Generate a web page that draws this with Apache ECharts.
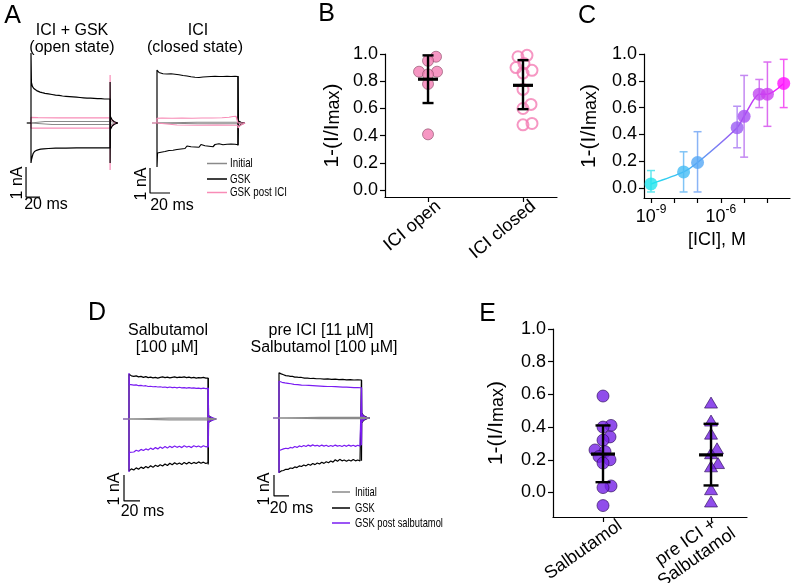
<!DOCTYPE html>
<html><head><meta charset="utf-8">
<script src="https://cdn.jsdelivr.net/npm/echarts@6/dist/echarts.min.js"></script>
<style>html,body{margin:0;padding:0;background:#fff}#c{width:791px;height:583px}</style>
</head><body><div id="c"></div>
<script>
// ================= DATA =================
// Panel A, left: ICI + GSK (open state). [time ms, current nA]
const aOpenInitialUp = [[-6,0],[0,0],[0,0.06],[20,0.05],[60,0.05],[113,0.05],[113,0],[124,0]];
const aOpenInitialDn = [[0,0],[0,-0.05],[30,-0.05],[113,-0.05],[113,0],[124,0]];
const aOpenGskUp = [[-6,0],[0,0],[0,2.33],[0.6,1.35],[2,1.22],[4,1.15],[6,1.11],[8,1.08],[10,1.06],[13,1.03],[16,1.01],[20,0.99],[25,0.97],[30,0.95],[35,0.93],[40,0.92],[45,0.90],[50,0.89],[55,0.88],[60,0.87],[65,0.86],[70,0.85],[75,0.84],[80,0.83],[85,0.83],[90,0.82],[95,0.81],[100,0.81],[105,0.80],[110,0.80],[113,0.80],[113,-1.33],[113.4,0.22],[116,0.1],[119,0.04],[124,0]];
const aOpenGskDn = [[0,0],[0,-1.33],[0.6,-1.23],[2,-1.1],[3,-1.02],[5,-0.95],[8,-0.91],[11,-0.89],[14,-0.87],[18,-0.86],[25,-0.85],[35,-0.84],[50,-0.84],[65,-0.83],[80,-0.83],[95,-0.83],[113,-0.83],[113,1.37],[113.4,-0.22],[116,-0.1],[119,-0.04],[124,0]];
const aOpenPostUp = [[0,0],[0,0.19],[10,0.18],[40,0.17],[80,0.17],[113,0.17],[113,-1.57],[113.4,0.18],[116,0.08],[120,0.02],[124,0]];
const aOpenPostDn = [[0,0],[0,-0.17],[40,-0.17],[80,-0.17],[113,-0.17],[113,1.6],[113.4,-0.18],[116,-0.08],[120,-0.02],[124,0]];

// Panel A, right: ICI (closed state)
const aClosedInitialUp = [[-5,0],[0,0],[0,0.03],[40,0.03],[81,0.03],[81,0],[88,0]];
const aClosedInitialDn = [[0,0],[0,-0.03],[40,-0.03],[81,-0.03],[81,0],[88,0]];
const aClosedGskUp = [[0,0],[0,2.12],[0.5,2.05],[2,2.02],[4,2.0],[6,1.97],[8,2.0],[10,1.96],[12,1.95],[14,1.97],[16,1.93],[18,1.95],[20,1.91],[22,1.93],[24,1.89],[26,1.9],[28,1.86],[30,1.88],[32,1.83],[34,1.85],[36,1.8],[38,1.83],[40,1.79],[42,1.82],[44,1.8],[46,1.84],[48,1.81],[50,1.85],[52,1.83],[54,1.86],[56,1.84],[58,1.87],[60,1.85],[62,1.86],[64,1.83],[66,1.86],[68,1.84],[70,1.87],[72,1.85],[74,1.86],[76,1.84],[78,1.87],[80,1.86],[81,1.86],[81,-0.9],[81.5,0.08],[84,0.03],[88,0]];
const aClosedGskDn = [[0,0],[0,-1.76],[0.5,-1.2],[2,-1.15],[4,-1.17],[6,-1.1],[8,-1.14],[10,-1.06],[12,-1.1],[14,-1.03],[16,-1.09],[18,-1.02],[20,-1.06],[22,-0.98],[24,-1.04],[26,-0.97],[28,-1.02],[30,-0.92],[32,-0.99],[34,-0.95],[36,-0.88],[38,-0.96],[40,-0.9],[42,-0.97],[44,-0.86],[46,-0.94],[48,-0.91],[50,-0.84],[52,-0.93],[54,-0.88],[56,-0.95],[58,-0.86],[60,-0.92],[62,-0.83],[64,-0.9],[66,-0.87],[68,-0.93],[70,-0.85],[72,-0.91],[74,-0.84],[76,-0.89],[78,-0.85],[80,-0.88],[81,-0.87],[81,1.88],[81.5,-0.15],[84,-0.06],[88,0]];
const aClosedPostUp = [[-5,0],[0,0],[0,0.19],[5,0.2],[15,0.19],[25,0.2],[35,0.19],[45,0.2],[55,0.2],[65,0.21],[72,0.23],[76,0.26],[79,0.27],[81,0.26],[81,0],[88,0]];
const aClosedPostDn = [[0,0],[0,-0.08],[20,-0.08],[40,-0.09],[60,-0.08],[81,-0.09],[81,-0.2],[83,-0.1],[88,0]];

// Panel D, left: Salbutamol [100 uM]
const dSalInitialUp = [[-7.5,0],[0,0],[0,0.03],[50,0.03],[99,0.03],[99,0],[109,0]];
const dSalInitialDn = [[0,0],[0,-0.03],[50,-0.03],[99,-0.03],[99,0],[109,0]];
const dSalGskUp = [[0,0],[0,1.72],[0.5,1.68],[3,1.66],[6,1.64],[9,1.66],[12,1.62],[15,1.64],[18,1.6],[21,1.63],[24,1.59],[27,1.61],[30,1.58],[33,1.6],[36,1.57],[39,1.6],[42,1.62],[45,1.59],[48,1.61],[51,1.58],[54,1.6],[57,1.62],[60,1.59],[63,1.61],[66,1.6],[69,1.62],[72,1.59],[75,1.61],[78,1.58],[81,1.6],[84,1.57],[87,1.59],[90,1.58],[93,1.6],[96,1.57],[99,1.57],[99,-1.75],[99.5,0.12],[102,0.06],[105,0.02],[109,0]];
const dSalGskDn = [[0,0],[0,-2.0],[0.5,-1.97],[3,-1.92],[6,-1.96],[9,-1.88],[12,-1.93],[15,-1.85],[18,-1.9],[21,-1.83],[24,-1.88],[27,-1.8],[30,-1.86],[33,-1.78],[36,-1.83],[39,-1.76],[42,-1.81],[45,-1.73],[48,-1.79],[51,-1.7],[54,-1.76],[57,-1.68],[60,-1.74],[63,-1.69],[66,-1.75],[69,-1.67],[72,-1.73],[75,-1.66],[78,-1.72],[81,-1.67],[84,-1.71],[87,-1.65],[90,-1.7],[93,-1.66],[96,-1.71],[99,-1.68],[99,1.58],[99.5,-0.12],[102,-0.06],[105,-0.02],[109,0]];
const dSalPostUp = [[-7.5,0],[0,0],[0,1.77],[0.5,1.33],[3,1.32],[6,1.3],[9,1.31],[12,1.28],[15,1.29],[18,1.27],[21,1.28],[24,1.25],[27,1.26],[30,1.24],[33,1.25],[36,1.23],[39,1.24],[42,1.22],[45,1.23],[48,1.21],[51,1.23],[54,1.21],[57,1.22],[60,1.2],[63,1.22],[66,1.2],[69,1.21],[72,1.19],[75,1.21],[78,1.19],[81,1.2],[84,1.18],[87,1.19],[90,1.17],[93,1.19],[96,1.17],[99,1.18],[99,-1.1],[99.5,0.1],[102,0.05],[109,0]];
const dSalPostDn = [[0,0],[0,-2.04],[0.5,-1.28],[3,-1.24],[6,-1.27],[9,-1.2],[12,-1.24],[15,-1.17],[18,-1.21],[21,-1.15],[24,-1.19],[27,-1.12],[30,-1.17],[33,-1.1],[36,-1.15],[39,-1.08],[42,-1.13],[45,-1.06],[48,-1.12],[51,-1.05],[54,-1.1],[57,-1.04],[60,-1.09],[63,-1.05],[66,-1.1],[69,-1.03],[72,-1.08],[75,-1.05],[78,-1.1],[81,-1.03],[84,-1.07],[87,-1.04],[90,-1.09],[93,-1.03],[96,-1.07],[99,-1.05],[99,1.2],[99.5,-0.1],[102,-0.05],[109,0]];

// Panel D, right: pre ICI [11 uM] + Salbutamol [100 uM]
const dPreInitialUp = [[-8,0],[0,0],[0,0.03],[55,0.03],[110,0.03],[110,0],[121,0]];
const dPreInitialDn = [[0,0],[0,-0.03],[55,-0.03],[110,-0.03],[110,0],[121,0]];
const dPreGskUp = [[0,0],[0,2.15],[0.5,2.13],[3,2.1],[6,2.06],[9,2.02],[12,2.01],[15,1.98],[18,1.98],[21,1.95],[24,1.95],[27,1.93],[30,1.93],[34,1.9],[38,1.9],[42,1.88],[46,1.89],[50,1.87],[55,1.87],[60,1.85],[65,1.86],[70,1.84],[75,1.85],[80,1.83],[85,1.84],[90,1.82],[95,1.83],[100,1.81],[105,1.82],[110,1.81],[110,-2.03],[110.4,0.22],[113,0.1],[117,0.03],[121,0]];
const dPreGskDn = [[0,0],[0,-2.6],[0.5,-2.58],[3,-2.52],[6,-2.5],[9,-2.44],[12,-2.45],[15,-2.38],[18,-2.4],[21,-2.33],[24,-2.36],[27,-2.28],[30,-2.31],[33,-2.24],[36,-2.28],[39,-2.2],[42,-2.25],[45,-2.17],[48,-2.22],[51,-2.14],[54,-2.19],[57,-2.11],[60,-2.16],[63,-2.08],[66,-2.13],[69,-2.05],[72,-2.1],[75,-1.99],[78,-2.06],[81,-1.97],[84,-2.04],[87,-2.0],[90,-2.06],[93,-2.0],[96,-2.05],[99,-1.98],[102,-2.04],[105,-2.0],[108,-2.05],[110,-2.03],[110,1.81],[110.4,-0.22],[113,-0.1],[117,-0.03],[121,0]];
const dPrePostUp = [[-8,0],[0,0],[0,1.75],[0.5,1.73],[4,1.7],[8,1.67],[12,1.65],[16,1.63],[20,1.6],[25,1.59],[30,1.57],[35,1.56],[40,1.55],[45,1.54],[50,1.53],[55,1.52],[60,1.51],[65,1.5],[70,1.5],[75,1.49],[80,1.48],[85,1.47],[90,1.47],[95,1.46],[100,1.45],[105,1.45],[110,1.44],[110,-1.3],[110.4,0.18],[113,0.08],[117,0.02],[121,0]];
const dPrePostDn = [[0,0],[0,-2.62],[0.5,-1.55],[3,-1.5],[6,-1.47],[9,-1.44],[12,-1.46],[15,-1.4],[18,-1.43],[21,-1.36],[24,-1.4],[27,-1.33],[30,-1.37],[33,-1.31],[36,-1.36],[39,-1.29],[42,-1.34],[45,-1.28],[48,-1.33],[51,-1.3],[54,-1.35],[57,-1.29],[60,-1.34],[63,-1.3],[66,-1.36],[69,-1.31],[72,-1.35],[75,-1.29],[78,-1.34],[81,-1.31],[84,-1.36],[87,-1.3],[90,-1.35],[93,-1.29],[96,-1.34],[99,-1.3],[102,-1.35],[105,-1.3],[108,-1.34],[110,-1.32],[110,1.44],[110.4,-0.18],[113,-0.08],[117,-0.02],[121,0]];

// Scale bars: 20 ms, 1 nA
const scaleMs = 20, scaleNA = 1;

// Panel B: 1-(I/Imax)
const bCategories = ['ICI open', 'ICI closed'];
const bOpenValues = [0.98, 0.95, 0.87, 0.87, 0.85, 0.78, 0.41];
const bClosedValues = [0.99, 0.98, 0.93, 0.90, 0.88, 0.86, 0.74, 0.63, 0.60, 0.49, 0.48];
const bMean = [0.815, 0.77];
const bLow = [0.64, 0.595];
const bHigh = [0.99, 0.955];

// Panel C: concentration-response (log10 [ICI], M)
const cLogConc = [-9.0, -7.6, -7.0, -5.3, -5.0, -4.35, -4.0, -3.3];
const cMean = [0.03, 0.12, 0.19, 0.45, 0.535, 0.70, 0.70, 0.78];
const cLow = [-0.03, -0.03, -0.03, 0.30, 0.23, 0.60, 0.46, 0.60];
const cHigh = [0.13, 0.27, 0.42, 0.61, 0.84, 0.81, 0.94, 0.96];
const cTickExp = [-9, -8, -7, -6, -5, -4];
const cLabelExp = [-9, -6];

// Panel E
const eCategories = ['Salbutamol', 'pre ICI +\nSalbutamol'];
const eSalValues = [0.59, 0.41, 0.40, 0.34, 0.32, 0.26, 0.25, 0.22, 0.20, 0.18, 0.04, 0.03, -0.08];
const ePreValues = [0.55, 0.44, 0.36, 0.27, 0.24, 0.18, 0.16, 0.02, -0.055];
const eMean = [0.235, 0.23];
const eLow = [0.063, 0.043];
const eHigh = [0.41, 0.42];

const yTicks = [0, 0.2, 0.4, 0.6, 0.8, 1.0];

// ================= STYLE =================
const FONT = 'Liberation Sans, Arial, sans-serif';
const GRAY = '#8a8a8a', BLACK = '#000000', PINK = '#f88cb7', PURPLE = '#7a1cf2';
const B_PINK = '#f47db4', E_PURPLE = '#7420e6';
const cColors = ['#1fe3ee','#45bdf5','#55a8f5','#9a5cf2','#a64ff2','#c048f0','#cc40f0','#ff10ff'];
const cErrColors = ['#63e6ef','#80c4f6','#8ab4f6','#b993f5','#c489f2','#d47cf2','#dc6df0','#f35cf3'];
// rotated category labels sit slightly to the right of their tick (in axis units)
const bLabelShift = 0.11, eLabelShift = 0.16;

const chart = echarts.init(document.getElementById('c'), null, {renderer: 'canvas'});

// grids: 0 A-open, 1 A-closed, 2 B, 3 C, 4 D-left, 5 D-right, 6 E
const grids = [
  {left: 17, top: 48, width: 105, height: 150},
  {left: 142, top: 63, width: 110, height: 135},
  {left: 385, top: 54, width: 172, height: 143},
  {left: 644, top: 54, width: 146, height: 144},
  {left: 121, top: 367, width: 96, height: 143},
  {left: 271.5, top: 365.5, width: 101.25, height: 136.5},
  {left: 553, top: 329, width: 194, height: 188}
].map(g => Object.assign({containLabel: false, outerBoundsMode: 'none'}, g));

const traceRanges = {
  0: {x: [-20, 130], y: [-2.5, 2.5]},
  1: {x: [-15, 95], y: [-3.0, 2.4]},
  4: {x: [-10, 110], y: [-3.5, 2.0]},
  5: {x: [-10, 125], y: [-4.0, 2.5]}
};
// scale bar origins (corner), in each trace panel's units
const scaleOrigins = {0: [-7.1, -2.47], 1: [-7, -2.8], 4: [-6.25, -3.15], 5: [-6.67, -3.71]};

const axisLineStyle = {show: true, onZero: false, lineStyle: {color: '#000', width: 1.2}};
const axisTickStyle = {show: true, length: 5, lineStyle: {color: '#000', width: 1.2}};
const labelBase = {color: '#000', fontFamily: FONT, fontSize: 18};

function yName(gap) {
  return {
    name: '{a|1-(I/I}{s|max}{a|)}', nameLocation: 'middle', nameGap: gap, nameRotate: 90,
    nameTextStyle: {fontSize: 21, fontFamily: FONT, rich: {
      a: {fontFamily: FONT, fontSize: 21, lineHeight: 30, color: '#000', verticalAlign: 'bottom'},
      s: {fontFamily: FONT, fontSize: 18, lineHeight: 18, color: '#000', verticalAlign: 'bottom'}
    }}
  };
}
function valueYAxis(grid, min, gap) {
  return Object.assign({
    gridIndex: grid, type: 'value', min: min, max: 1.0,
    axisLine: axisLineStyle, axisTick: Object.assign({customValues: yTicks}, axisTickStyle),
    axisLabel: Object.assign({customValues: yTicks, margin: 7, formatter: v => v.toFixed(1)}, labelBase),
    splitLine: {show: false}
  }, yName(gap));
}

const xAxes = [], yAxes = [];
for (let g = 0; g < 7; g++) {
  if (traceRanges[g]) {
    xAxes.push({gridIndex: g, type: 'value', min: traceRanges[g].x[0], max: traceRanges[g].x[1], show: false});
    yAxes.push({gridIndex: g, type: 'value', min: traceRanges[g].y[0], max: traceRanges[g].y[1], show: false});
  } else if (g === 2) {
    xAxes.push({gridIndex: 2, type: 'value', min: 0.547, max: 2.358, axisLine: axisLineStyle,
      axisTick: Object.assign({customValues: [1, 2]}, axisTickStyle), splitLine: {show: false},
      axisLabel: Object.assign({customValues: [1 + bLabelShift, 2 + bLabelShift], rotate: 40, margin: 7,
        formatter: v => bCategories[Math.round(v - bLabelShift) - 1] || ''}, labelBase)});
    yAxes.push(valueYAxis(2, -0.05, 42));
  } else if (g === 3) {
    xAxes.push({gridIndex: 3, type: 'value', min: -9.3, max: -3.03, axisLine: axisLineStyle,
      axisTick: Object.assign({customValues: cTickExp}, axisTickStyle), splitLine: {show: false},
      name: '[ICI], M', nameLocation: 'middle', nameGap: 33,
      nameTextStyle: {fontFamily: FONT, fontSize: 18, color: '#000'},
      axisLabel: {customValues: cLabelExp, margin: 6, formatter: v => '{b|10}{p|' + Math.round(v) + '}',
        rich: {b: {fontFamily: FONT, fontSize: 18, lineHeight: 22, color: '#000', verticalAlign: 'bottom'},
               p: {fontFamily: FONT, fontSize: 12, lineHeight: 12, color: '#000', verticalAlign: 'top'}}}});
    yAxes.push(valueYAxis(3, -0.075, 44));
  } else if (g === 6) {
    xAxes.push({gridIndex: 6, type: 'value', min: 0.537, max: 2.333, axisLine: axisLineStyle,
      axisTick: Object.assign({customValues: [1, 2]}, axisTickStyle), splitLine: {show: false},
      axisLabel: {customValues: [1 + eLabelShift, 2 + eLabelShift], rotate: 35, margin: 7,
        formatter: v => (eCategories[Math.round(v - eLabelShift) - 1] || '').split('\n').map(s => '{c|' + s + '}').join('\n'),
        rich: {c: {fontFamily: FONT, fontSize: 18, lineHeight: 19, color: '#000', align: 'center'}}}});
    yAxes.push(valueYAxis(6, -0.15, 46));
  }
}

const series = [];
function trace(g, data, color, z) {
  series.push({type: 'line', xAxisIndex: g, yAxisIndex: g, data: data, showSymbol: false, symbol: 'none',
    lineStyle: {color: color, width: 1.2}, z: z, silent: true, animation: false});
}
// traces: initial (gray), post (pink/purple), GSK (black)
trace(0, aOpenInitialUp, GRAY, 2); trace(0, aOpenInitialDn, GRAY, 2);
trace(0, aOpenPostUp, PINK, 3); trace(0, aOpenPostDn, PINK, 3);
trace(0, aOpenGskUp, BLACK, 4); trace(0, aOpenGskDn, BLACK, 4);
trace(1, aClosedInitialUp, GRAY, 2); trace(1, aClosedInitialDn, GRAY, 2);
trace(1, aClosedGskUp, BLACK, 3); trace(1, aClosedGskDn, BLACK, 3);
trace(1, aClosedPostUp, PINK, 4); trace(1, aClosedPostDn, PINK, 4);
trace(4, dSalGskUp, BLACK, 2); trace(4, dSalGskDn, BLACK, 2);
trace(4, dSalPostUp, PURPLE, 3); trace(4, dSalPostDn, PURPLE, 3);
trace(4, dSalInitialUp, GRAY, 4); trace(4, dSalInitialDn, GRAY, 4);
trace(5, dPreGskUp, BLACK, 2); trace(5, dPreGskDn, BLACK, 2);
trace(5, dPrePostUp, PURPLE, 3); trace(5, dPrePostDn, PURPLE, 3);
trace(5, dPreInitialUp, GRAY, 4); trace(5, dPreInitialDn, GRAY, 4);
// scale bars
[0, 1, 4, 5].forEach(g => {
  const o = scaleOrigins[g];
  trace(g, [[o[0], o[1] + scaleNA], [o[0], o[1]], [o[0] + scaleMs, o[1]]], BLACK, 5);
});

// Error-bar renderer (mean +/- SD)
function errRender(capHalf, meanHalf, colorFn, lw, meanLw) {
  return function (params, api) {
    const x = api.value(0), m = api.value(1), lo = api.value(2), hi = api.value(3);
    const pl = api.coord([x, lo]), ph = api.coord([x, hi]), pm = api.coord([x, m]);
    const col = colorFn(params.dataIndex);
    const st = {stroke: col, lineWidth: lw, fill: null};
    const ch = [
      {type: 'line', shape: {x1: pl[0], y1: pl[1], x2: ph[0], y2: ph[1]}, style: st},
      {type: 'line', shape: {x1: pl[0] - capHalf, y1: pl[1], x2: pl[0] + capHalf, y2: pl[1]}, style: st},
      {type: 'line', shape: {x1: ph[0] - capHalf, y1: ph[1], x2: ph[0] + capHalf, y2: ph[1]}, style: st}
    ];
    if (meanHalf > 0) ch.push({type: 'line', shape: {x1: pm[0] - meanHalf, y1: pm[1], x2: pm[0] + meanHalf, y2: pm[1]},
      style: {stroke: col, lineWidth: meanLw, fill: null}});
    return {type: 'group', children: ch};
  };
}

// Panel B
series.push({id: 'bOpen', type: 'scatter', xAxisIndex: 2, yAxisIndex: 2, symbolSize: 11, z: 2,
  data: bOpenValues.map(v => [1, v]), itemStyle: {color: B_PINK, borderColor: '#8a4a66', borderWidth: 0.8}});
series.push({id: 'bClosed', type: 'scatter', xAxisIndex: 2, yAxisIndex: 2, symbolSize: 11, z: 2,
  data: bClosedValues.map(v => [2, v]), itemStyle: {color: 'rgba(255,255,255,0)', borderColor: B_PINK, borderWidth: 2}});
series.push({type: 'custom', xAxisIndex: 2, yAxisIndex: 2, z: 5,
  data: bMean.map((m, i) => [i + 1, m, bLow[i], bHigh[i]]),
  renderItem: errRender(5.5, 10, () => '#000', 2.4, 3.2)});

// Panel C
series.push({type: 'line', xAxisIndex: 3, yAxisIndex: 3, data: cLogConc.map((x, i) => [x, cMean[i]]),
  smooth: 0.25, showSymbol: false, symbol: 'none', z: 2,
  lineStyle: {width: 1.5, color: new echarts.graphic.LinearGradient(0, 0, 1, 0, [
    {offset: 0, color: cColors[0]}, {offset: 0.35, color: cColors[2]}, {offset: 0.65, color: cColors[4]}, {offset: 1, color: cColors[7]}])}});
series.push({type: 'custom', xAxisIndex: 3, yAxisIndex: 3, z: 3,
  data: cLogConc.map((x, i) => [x, cMean[i], cLow[i], cHigh[i]]),
  renderItem: errRender(4, 0, i => cErrColors[i], 1.5, 0)});
series.push({type: 'scatter', xAxisIndex: 3, yAxisIndex: 3, symbolSize: 13, z: 4,
  data: cLogConc.map((x, i) => ({value: [x, cMean[i]], itemStyle: {color: cColors[i]}}))});

// Panel E
series.push({id: 'eSal', type: 'scatter', xAxisIndex: 6, yAxisIndex: 6, symbolSize: 12, z: 2,
  data: eSalValues.map(v => [1, v]), itemStyle: {color: E_PURPLE, borderColor: '#2a0a55', borderWidth: 0.8}});
series.push({id: 'ePre', type: 'scatter', xAxisIndex: 6, yAxisIndex: 6, symbol: 'triangle', symbolSize: [13, 11], z: 2,
  data: ePreValues.map(v => [2, v]), itemStyle: {color: E_PURPLE, borderColor: '#2a0a55', borderWidth: 0.8}});
series.push({type: 'custom', xAxisIndex: 6, yAxisIndex: 6, z: 5,
  data: eMean.map((m, i) => [i + 1, m, eLow[i], eHigh[i]]),
  renderItem: errRender(7.5, 12, () => '#000', 2.4, 3.2)});

// ---------- text (titles, letters, scale labels, legends) ----------
function txt(text, x, y, size, opts) {
  opts = opts || {};
  return {type: 'text', x: x, y: y, rotation: opts.rot || 0, scaleX: opts.sx || 1, silent: true,
    style: {text: text, x: 0, y: 0, fill: '#000', font: size + 'px ' + FONT,
      align: opts.align || 'center', textAlign: opts.align || 'center',
      verticalAlign: 'middle', textVerticalAlign: 'middle'}};
}
function legLine(x1, x2, y, color) {
  return {type: 'line', silent: true, shape: {x1: x1, y1: y, x2: x2, y2: y}, style: {stroke: color, lineWidth: 1.5}};
}
const graphics = [
  txt('A', 12.5, 16, 25), txt('B', 326.5, 14.5, 25), txt('C', 587, 16.5, 25), txt('D', 97, 313.5, 25), txt('E', 487.5, 314, 25),
  txt('ICI + GSK', 72, 31, 16), txt('(open state)', 72, 48, 16),
  txt('ICI', 198, 31, 16), txt('(closed state)', 195, 48, 16),
  txt('Salbutamol', 168, 331, 16), txt('[100 µM]', 167, 348, 16),
  txt('pre ICI [11 µM]', 321, 331, 16), txt('Salbutamol [100 µM]', 324, 348, 16),
  txt('1 nA', 18, 183, 16, {rot: Math.PI / 2}), txt('20 ms', 46, 205, 16),
  txt('1 nA', 142, 184, 16, {rot: Math.PI / 2}), txt('20 ms', 172, 206, 16),
  txt('1 nA', 115, 489, 16, {rot: Math.PI / 2}), txt('20 ms', 142.5, 511.5, 16),
  txt('1 nA', 264.5, 489, 16, {rot: Math.PI / 2}), txt('20 ms', 291.5, 509, 16),
  legLine(207, 227, 163.5, GRAY), legLine(207, 227, 179, BLACK), legLine(207, 227, 192.5, PINK),
  txt('Initial', 230, 163.5, 13, {align: 'left', sx: 0.75}),
  txt('GSK', 230, 179, 13, {align: 'left', sx: 0.75}),
  txt('GSK post ICI', 230, 192.5, 13, {align: 'left', sx: 0.75}),
  legLine(332, 350, 492, GRAY), legLine(332, 350, 508, BLACK), legLine(332, 350, 523, PURPLE),
  txt('Initial', 355, 492, 13, {align: 'left', sx: 0.72}),
  txt('GSK', 355, 508, 13, {align: 'left', sx: 0.72}),
  txt('GSK post salbutamol', 355, 523, 13, {align: 'left', sx: 0.72})
];

chart.setOption({
  animation: false, backgroundColor: '#fff',
  grid: grids, xAxis: xAxes, yAxis: yAxes, series: series, graphic: graphics
});

// ---------- beeswarm offsets computed through the axes' scales ----------
function swarm(values, center, g, diameter, overlap) {
  const minD = diameter * overlap;
  const finder = {gridIndex: g};
  const c0 = chart.convertToPixel(finder, [center, 0])[0];
  const order = values.map((v, i) => i).sort((a, b) => values[a] - values[b]);
  const placed = [], out = new Array(values.length);
  order.forEach(i => {
    const py = chart.convertToPixel(finder, [center, values[i]])[1];
    let off = 0;
    for (let k = 0; k < 400; k++) {
      const cand = k === 0 ? 0 : (k % 2 ? (k + 1) / 2 : -k / 2);
      const ok = placed.every(p => (p[0] - cand) ** 2 + (p[1] - py) ** 2 >= minD * minD);
      if (ok) { off = cand; break; }
    }
    placed.push([off, py]);
    out[i] = [chart.convertFromPixel(finder, [c0 + off, py])[0], values[i]];
  });
  return out;
}
chart.setOption({series: [
  {id: 'bOpen', data: swarm(bOpenValues, 1, 2, 11, 0.78)},
  {id: 'bClosed', data: swarm(bClosedValues, 2, 2, 11, 0.78)},
  {id: 'eSal', data: swarm(eSalValues, 1, 6, 12, 0.6)},
  {id: 'ePre', data: swarm(ePreValues, 2, 6, 12, 0.6)}
]});
</script></body></html>
